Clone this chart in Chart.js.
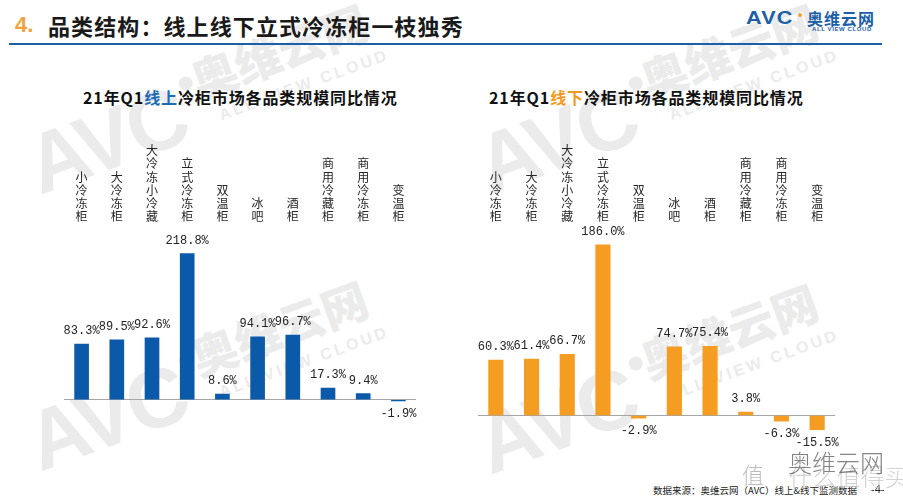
<!DOCTYPE html>
<html><head><meta charset="utf-8">
<script src="https://cdn.jsdelivr.net/npm/chart.js@4/dist/chart.umd.min.js"></script>
<style>
html,body{margin:0;padding:0;background:#fff;}
body{width:903px;height:503px;position:relative;overflow:hidden;font-family:"Noto Sans CJK SC",sans-serif;}
.abs{position:absolute;white-space:nowrap;}
#num{left:15px;top:13px;font-size:22px;line-height:24px;font-weight:bold;color:#f2a23a;font-family:"Liberation Sans",sans-serif;}
#ttl{left:48px;top:12px;font-size:22px;line-height:26px;font-weight:bold;color:#1a1a1a;letter-spacing:1.1px;}
#rule{left:9px;top:43px;width:873px;height:2px;background:#1c5ea8;}
#avc{left:746px;top:7px;font-size:18px;line-height:22px;font-weight:900;color:#1c5ea8;font-family:"Liberation Sans",sans-serif;letter-spacing:1px;transform:scaleX(1.2);transform-origin:left top;}
#dot{left:798px;top:13px;width:4px;height:4px;border-radius:50%;background:#f2a23a;}
#cn{left:807px;top:8px;font-size:16px;line-height:20px;font-weight:bold;color:#1c5ea8;letter-spacing:1px;}
#en{left:812px;top:26px;font-size:6px;line-height:6px;font-weight:bold;color:#1c5ea8;font-family:"Liberation Sans",sans-serif;letter-spacing:0.6px;}
.sub{top:87px;font-size:16px;line-height:20px;font-weight:bold;color:#111;letter-spacing:0.9px;}
#subL{left:83px;}
#subR{left:489px;}
#src{left:653px;top:484px;font-size:9.5px;line-height:12px;color:#222;}
#pg{left:871px;top:483px;font-size:11px;line-height:13px;color:#222;font-family:"Liberation Sans",sans-serif;}
canvas{position:absolute;}
#cL{left:40px;top:140px;}
#cR{left:460px;top:140px;}
.wm{position:absolute;width:420px;height:80px;transform-origin:0 100%;transform:rotate(-20deg);color:#ebebeb;}
.wm .a{position:absolute;left:0;top:9px;font-family:"Liberation Sans",sans-serif;font-weight:900;font-size:84px;line-height:84px;letter-spacing:-3px;}
.wm .d{position:absolute;left:168px;top:18px;width:14px;height:14px;border-radius:50%;background:#ebebeb;}
.wm .c{position:absolute;left:182px;top:0px;font-weight:900;font-size:46px;line-height:50px;}
.wm .e{position:absolute;left:196px;top:58px;font-family:"Liberation Sans",sans-serif;font-weight:bold;font-size:16px;line-height:18px;letter-spacing:3px;}
#wm2{color:#5a5a5a;left:788px;top:448px;font-size:24px;line-height:28px;font-weight:300;opacity:0.75;}
#wm3{color:#c8c8c8;left:778px;top:462px;font-size:24px;line-height:28px;font-weight:300;opacity:0.8;}
#wm4{color:#bdbdbd;left:742px;top:460px;font-size:22px;line-height:26px;font-weight:300;}
</style>
</head><body>
<div class="wm" style="left:40px;top:115px;"><span class="a">AVC</span><span class="d"></span><span class="c">奥维云网</span><span class="e">ALL VIEW CLOUD</span></div>
<div class="wm" style="left:40px;top:392px;"><span class="a">AVC</span><span class="d"></span><span class="c">奥维云网</span><span class="e">ALL VIEW CLOUD</span></div>
<div class="wm" style="left:490px;top:115px;"><span class="a">AVC</span><span class="d"></span><span class="c">奥维云网</span><span class="e">ALL VIEW CLOUD</span></div>
<div class="wm" style="left:490px;top:395px;"><span class="a">AVC</span><span class="d"></span><span class="c">奥维云网</span><span class="e">ALL VIEW CLOUD</span></div>
<div class="abs" id="num">4.</div>
<div class="abs" id="ttl">品类结构：线上线下立式冷冻柜一枝独秀</div>
<div class="abs" id="rule"></div>
<div class="abs" id="avc">AVC</div>
<div class="abs" id="dot"></div>
<div class="abs" id="cn">奥维云网</div>
<div class="abs" id="en">ALL VIEW CLOUD</div>
<div class="abs sub" id="subL">21年Q1<span style="color:#1c6cb5">线上</span>冷柜市场各品类规模同比情况</div>
<div class="abs sub" id="subR">21年Q1<span style="color:#f39a1e">线下</span>冷柜市场各品类规模同比情况</div>
<canvas id="cL" width="400" height="320"></canvas>
<canvas id="cR" width="400" height="320"></canvas>
<div class="abs" id="src">数据来源：奥维云网（AVC）线上&amp;线下监测数据</div>
<div class="abs" id="pg">-4-</div>
<div class="abs" id="wm4">值</div>
<div class="abs" id="wm3">&nbsp;&nbsp;什么值得买</div>
<div class="abs" id="wm2">奥维云网</div>
<script>
const categories = ['小冷冻柜','大冷冻柜','大冷冻小冷藏','立式冷冻柜','双温柜','冰吧','酒柜','商用冷藏柜','商用冷冻柜','变温柜'];
const onlineValues = [83.3, 89.5, 92.6, 218.8, 8.6, 94.1, 96.7, 17.3, 9.4, -1.9];
const offlineValues = [60.3, 61.4, 66.7, 186.0, -2.9, 74.7, 75.4, 3.8, -6.3, -15.5];

const verticalLabels = categories.map(c => Array.from(c));

const valueLabels = {
  id: 'valueLabels',
  afterDatasetsDraw(chart) {
    const ctx = chart.ctx;
    const ds = chart.data.datasets[0];
    const meta = chart.getDatasetMeta(0);
    ctx.save();
    ctx.font = '12px "Liberation Mono", monospace';
    ctx.fillStyle = '#222';
    ctx.textAlign = 'center';
    ctx.textBaseline = 'middle';
    meta.data.forEach((bar, i) => {
      const v = ds.data[i];
      const y = v >= 0 ? bar.y - 13 : bar.y + 13;
      ctx.fillText(v.toFixed(1) + '%', bar.x, y);
    });
    ctx.restore();
  }
};

function makeChart(id, values, color, yMin, yMax, padL, padR, thick) {
  return new Chart(document.getElementById(id), {
    type: 'bar',
    data: { labels: verticalLabels, datasets: [{ data: values, backgroundColor: color, barThickness: thick }] },
    options: {
      responsive: false, animation: false, devicePixelRatio: 1,
      layout: { padding: { left: padL, right: padR, top: 0, bottom: 20 } },
      plugins: { legend: { display: false }, tooltip: { enabled: false } },
      scales: {
        x: {
          position: 'top',
          grid: { display: false, drawTicks: false },
          border: { display: false },
          ticks: { padding: 4, maxRotation: 0, autoSkip: false, color: '#262626',
                   font: { family: '"Noto Sans CJK SC", sans-serif', size: 12, lineHeight: 1.1 } }
        },
        y: {
          min: yMin, max: yMax,
          afterBuildTicks: axis => { axis.ticks = [{ value: 0 }]; },
          ticks: { display: false },
          border: { display: false },
          grid: { drawTicks: false, lineWidth: 1, color: c => c.tick && c.tick.value === 0 ? '#a6a6a6' : 'rgba(0,0,0,0)' }
        }
      }
    },
    plugins: [valueLabels]
  });
}

makeChart('cL', onlineValues, '#0b5aa9', -60.2, 258.1, 24, 24, 14);
makeChart('cR', offlineValues, '#f59c22', -26.7, 205.1, 18, 25, 14.5);
</script>
</body></html>
